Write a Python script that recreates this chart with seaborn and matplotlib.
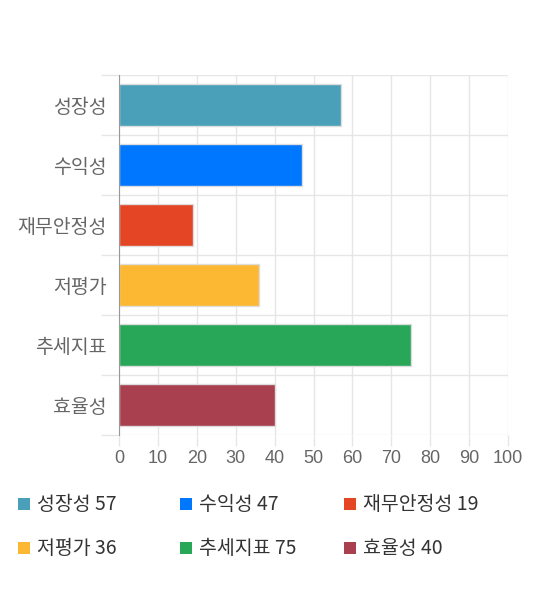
import numpy as np
import pandas as pd
import matplotlib
matplotlib.use("Agg")
import matplotlib.pyplot as plt
import seaborn as sns
from matplotlib.patches import Rectangle

# Chart data
categories = ["성장성", "수익성", "재무안정성", "저평가", "추세지표", "효율성"]
scores = [57, 47, 19, 36, 75, 40]
colors = ["#4aa0b9", "#0077ff", "#e34525", "#fdb833", "#28a758", "#a8404f"]
x_ticks = [0, 10, 20, 30, 40, 50, 60, 70, 80, 90, 100]

sns.set_theme(style="white")
plt.rcParams["font.family"] = ["Noto Sans CJK KR", "DejaVu Sans"]

df = pd.DataFrame({"category": categories, "score": scores})

fig = plt.figure(figsize=(5.4, 5.9), dpi=100)
ax = fig.add_axes([119 / 540, 155 / 590, 389 / 540, 360 / 590])

sns.barplot(data=df, x="score", y="category", hue="category", palette=colors,
            order=categories, orient="h", width=0.7, legend=False, ax=ax,
            edgecolor="#dddddd", linewidth=1, saturation=1)

ax.set_xlim(0, 100)
ax.set_ylim(len(categories) - 0.5, -0.5)
ax.set_xticks(x_ticks)
ax.set_xticklabels([str(t) for t in x_ticks], family=["Liberation Sans", "DejaVu Sans"])
ax.set_yticks(np.arange(-0.5, len(categories)), minor=True)
ax.set_xlabel("")
ax.set_ylabel("")

grid_c = "#e6e6e6"
ax.grid(True, axis="x", which="major", color=grid_c, linewidth=1)
ax.grid(True, axis="y", which="minor", color=grid_c, linewidth=1)
ax.grid(False, axis="y", which="major")
ax.set_axisbelow(True)

for s in ["top", "right", "bottom"]:
    ax.spines[s].set_visible(False)
ax.spines["left"].set_color("#999999")
ax.spines["left"].set_linewidth(0.8)

ax.tick_params(axis="x", which="major", length=8, width=1, color=grid_c,
               labelsize=13, labelcolor="#666666", pad=3, bottom=True)
ax.tick_params(axis="y", which="major", length=0, labelsize=14,
               labelcolor="#666666", pad=9)
ax.tick_params(axis="y", which="minor", length=13, width=1, color=grid_c, left=True)

# legend drawn manually, three per row
col_x = [18, 180, 344]
row_y = [504, 548]
for i, (cat, val, col) in enumerate(zip(categories, scores, colors)):
    cx = col_x[i % 3]
    cy = row_y[i // 3]
    fig.add_artist(Rectangle((cx / 540, 1 - (cy + 6) / 590), 12 / 540, 12 / 590,
                             transform=fig.transFigure, facecolor=col, edgecolor="none"))
    fig.text((cx + 19) / 540, 1 - cy / 590, f"{cat} {val}", fontsize=14,
             color="#333333", va="center", ha="left")

fig.savefig("out.png", dpi=100)
